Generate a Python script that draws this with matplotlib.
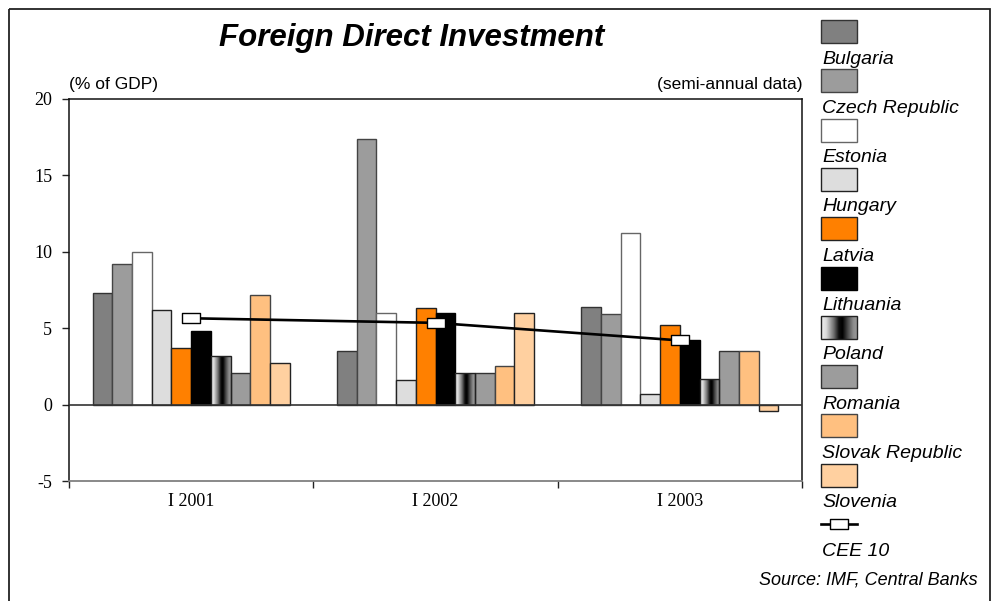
import numpy as np
import matplotlib.pyplot as plt
from matplotlib.patches import Rectangle
from matplotlib.path import Path
from matplotlib.colors import LinearSegmentedColormap

plt.rcParams["axes.unicode_minus"] = False

periods = ["I 2001", "I 2002", "I 2003"]
countries = ["Bulgaria", "Czech Republic", "Estonia", "Hungary", "Latvia",
             "Lithuania", "Poland", "Romania", "Slovak Republic", "Slovenia"]

fdi_bulgaria = [7.3, 3.5, 6.4]
fdi_czech = [9.2, 17.4, 5.9]
fdi_estonia = [10.0, 6.0, 11.2]
fdi_hungary = [6.2, 1.6, 0.7]
fdi_latvia = [3.7, 6.3, 5.2]
fdi_lithuania = [4.8, 6.0, 4.2]
fdi_poland = [3.2, 2.1, 1.7]
fdi_romania = [2.1, 2.1, 3.5]
fdi_slovakia = [7.2, 2.5, 3.5]
fdi_slovenia = [2.7, 6.0, -0.45]
fdi_cee10 = [5.65, 5.35, 4.2]

series = [fdi_bulgaria, fdi_czech, fdi_estonia, fdi_hungary, fdi_latvia,
          fdi_lithuania, fdi_poland, fdi_romania, fdi_slovakia, fdi_slovenia]
colors = ["#808080", "#9c9c9c", "#ffffff", "#dddddd", "#ff8000",
          "#000000", "gradient", "#9c9c9c", "#ffc080", "#ffd0a0"]
edges = ["#333333", "#444444", "#666666", "#222222", "#222222",
         "#000000", "#222222", "#333333", "#444444", "#222222"]

SANS = "Liberation Sans"
SERIF = "Liberation Serif"

# white -> black -> grey stripe used for Lithuania
grad_cmap = LinearSegmentedColormap.from_list(
    "stripe",
    [(0.0, (0.95,) * 3), (0.15, (0.85,) * 3), (0.35, (0.45,) * 3),
     (0.5, (0.05,) * 3), (0.6, (0.0,) * 3), (0.75, (0.3,) * 3),
     (0.9, (0.55,) * 3), (1.0, (0.6,) * 3)])
grad = np.linspace(0, 1, 256).reshape(1, -1)

W, H = 997, 601
fig = plt.figure(figsize=(W / 100, H / 100), dpi=100)

# overlay in pixel coordinates for frame, title, legend
ov = fig.add_axes([0, 0, 1, 1], zorder=0)
ov.set_xlim(0, W)
ov.set_ylim(H, 0)
ov.axis("off")

ax = fig.add_axes([69 / W, 1 - 481 / H, (802 - 69) / W, (481 - 99) / H], zorder=1)
ax.patch.set_alpha(0)

x = np.arange(len(periods))
w = 0.0805
for k, (vals, col, ec) in enumerate(zip(series, colors, edges)):
    pos = x + (k - 4.5) * w
    if col == "gradient":
        bars = ax.bar(pos, vals, w, color="none", edgecolor=ec, linewidth=1, zorder=3)
        for b in bars:
            bx, by = b.get_x(), b.get_y()
            bw, bh = b.get_width(), b.get_height()
            im = ax.imshow(grad, cmap=grad_cmap, aspect="auto",
                           extent=(bx, bx + bw, by, by + bh), zorder=2)
            im.set_clip_path(b)
    else:
        ax.bar(pos, vals, w, color=col, edgecolor=ec, linewidth=1, zorder=2)

box = Path([(-1, -0.6), (1, -0.6), (1, 0.6), (-1, 0.6), (-1, -0.6)],
           [Path.MOVETO, Path.LINETO, Path.LINETO, Path.LINETO, Path.CLOSEPOLY])
ax.plot(x, fdi_cee10, color="black", lw=1.9, marker=box, markersize=13,
        markerfacecolor="white", markeredgecolor="black", markeredgewidth=1, zorder=5)

ax.axhline(0, color="#333333", lw=1.2, zorder=4)

ax.set_xlim(-0.5, 2.5)
ax.set_ylim(-5, 20)
ax.set_yticks([-5, 0, 5, 10, 15, 20])
ax.set_xticks(x)
ax.set_xticklabels(periods, fontfamily=SERIF, fontsize=13)
ax.set_xticks([-0.5, 0.5, 1.5, 2.5], minor=True)
ax.tick_params(axis="x", which="major", length=0, pad=9)
ax.tick_params(axis="x", which="minor", length=5, width=1, color="#222222", direction="out")
ax.tick_params(axis="y", length=5, width=1, color="#222222", direction="out", pad=7)
for lab in ax.get_yticklabels():
    lab.set_fontfamily(SERIF)
    lab.set_fontsize(13)
for side in ["left", "top", "right"]:
    ax.spines[side].set_color("#111111")
    ax.spines[side].set_linewidth(1.1)
ax.spines["bottom"].set_color("#808080")
ax.spines["bottom"].set_linewidth(1.3)

# outer frame
ov.add_patch(Rectangle((8.5, 8.5), 990 - 8.5, 700, fill=False, ec="#222222", lw=1.3, clip_on=False))

ov.text(412, 38, "Foreign Direct Investment", family=SANS, fontsize=22.5,
        fontweight="bold", fontstyle="italic", ha="center", va="center")
ov.text(69, 85, "(% of GDP)", family=SANS, fontsize=12.5, ha="left", va="center")
ov.text(802, 85, "(semi-annual data)", family=SANS, fontsize=12.5, ha="right", va="center")
ov.text(978, 580, "Source: IMF, Central Banks", family=SANS, fontsize=13,
        fontstyle="italic", ha="right", va="center")

# legend: swatch above its label
lx, lw_, lh = 821, 36, 23
step = 49.3
for k, (name, col, ec) in enumerate(zip(countries, colors, edges)):
    top = 20 + k * step
    if col == "gradient":
        ov.imshow(grad, cmap=grad_cmap, aspect="auto",
                  extent=(lx, lx + lw_, top + lh, top), zorder=2)
        ov.add_patch(Rectangle((lx, top), lw_, lh, fill=False, ec=ec, lw=1, zorder=3))
    else:
        ov.add_patch(Rectangle((lx, top), lw_, lh, fc=col, ec=ec, lw=1, zorder=3))
    ov.text(lx + 1, top + 39, name, family=SANS, fontsize=14, fontstyle="italic",
            ha="left", va="center")
ov.set_xlim(0, W)
ov.set_ylim(H, 0)

ly = 20 + 10 * step + 11
ov.plot([lx, lx + lw_], [ly, ly], color="black", lw=1.9)
ov.plot([lx + lw_ / 2], [ly], marker=box, markersize=13, markerfacecolor="white",
        markeredgecolor="black", markeredgewidth=1)
ov.text(lx + 1, ly + 27, "CEE 10", family=SANS, fontsize=14, fontstyle="italic",
        ha="left", va="center")

fig.savefig("out.png", dpi=100)
